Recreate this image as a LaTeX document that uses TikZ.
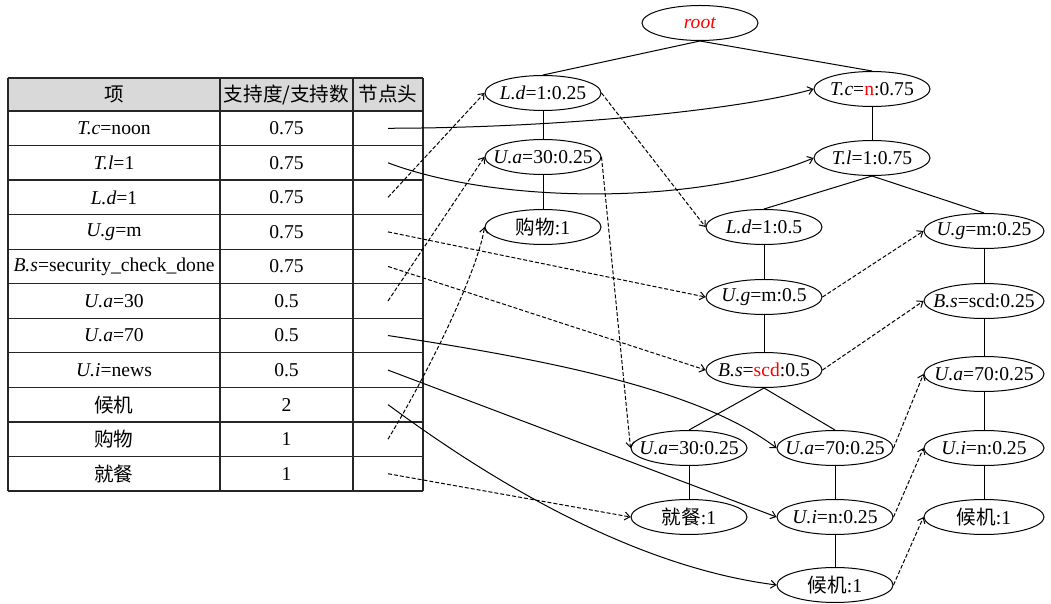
\documentclass[tikz,border=0pt]{standalone}
\usepackage{fontspec}
\setmainfont{Liberation Serif}
\newfontfamily\cjk{Noto Sans CJK SC}
\usetikzlibrary{shapes.geometric,arrows.meta}
\newcommand\zb[1]{\makebox[0pt]{#1}}
\begin{document}
\begin{tikzpicture}[x=0.5pt,y=-0.5pt,
  font=\fontsize{9.8}{12}\selectfont,
  el/.style={draw, ellipse, minimum width=58pt, minimum height=17.5pt, inner sep=0pt, line width=0.5pt},
  elw/.style={el, minimum width=60pt},
  tr/.style={line width=0.5pt},
  lk/.style={line width=0.5pt, dash pattern=on 2pt off 1pt, -{Straight Barb[length=2.5pt,width=4pt]}},
  ls/.style={line width=0.5pt, -{Straight Barb[length=2.5pt,width=4pt]}},
  cell/.style={inner sep=0pt, anchor=center},
  tline/.style={line width=0.65pt, black!85}
]
\useasboundingbox (0,0) rectangle (1051,604);

% ---------- table ----------
\fill[gray!30] (8,78) rectangle (423,111);
\draw[tline] (8,78) -- (423,78);
\draw[tline] (8,111) -- (423,111);
\foreach \i in {1,...,11} {
  \draw[tline] (8,{111+34.545*\i}) -- (423,{111+34.545*\i});
}
\foreach \x in {8,220,353,423} {
  \draw[tline] (\x,78) -- (\x,491);
}
\node[cell] (hA) at (114,94.5) {\cjk 项};
\node[cell] (hB) at (286.5,94.5) {\cjk 支持度/支持数};
\node[cell] (hC) at (388,94.5) {\cjk 节点头};
\foreach \i/\a/\b in {
  1/{\textit{T.c}=noon}/0.75,
  2/{\textit{T.l}=1}/0.75,
  3/{\textit{L.d}=1}/0.75,
  4/{\textit{U.g}=m}/0.75,
  5/{\textit{B.s}=security\_check\_done}/0.75,
  6/{\textit{U.a}=30}/0.5,
  7/{\textit{U.a}=70}/0.5,
  8/{\textit{U.i}=news}/0.5,
  9/{{\cjk 候机}}/2,
  10/{{\cjk 购物}}/1,
  11/{{\cjk 就餐}}/1} {
  \node[cell] (ta\i) at (114,{111+34.545*(\i-0.5)}) {\a};
  \node[cell] (tb\i) at (286.5,{111+34.545*(\i-0.5)}) {\b};
  \coordinate (h\i) at (388,{111+34.545*(\i-0.5)});
}

% ---------- tree nodes ----------
\node[el] (root) at (700,23) {\zb{\color{red}\textit{root}}};
\node[el] (ld1) at (543,93) {\zb{\textit{L.d}=1:0.25}};
\node[el] (ua1) at (543,157) {\zb{\textit{U.a}=30:0.25}};
\node[el] (gw) at (543,227) {\zb{{\cjk 购物}:1}};
\node[el] (tc) at (872,89) {\zb{\textit{T.c}={\color{red}n}:0.75}};
\node[el] (tl) at (872,158) {\zb{\textit{T.l}=1:0.75}};
\node[el] (ld2) at (764,227) {\zb{\textit{L.d}=1:0.5}};
\node[elw] (ug1) at (984,231) {\zb{\textit{U.g}=m:0.25}};
\node[el] (ug2) at (764,297) {\zb{\textit{U.g}=m:0.5}};
\node[elw] (bs1) at (984,301) {\zb{\textit{B.s}=scd:0.25}};
\node[el] (bs2) at (764,370) {\zb{\textit{B.s}={\color{red}scd}:0.5}};
\node[elw] (ua70r) at (984,374) {\zb{\textit{U.a}=70:0.25}};
\node[el] (ua30m) at (689,448) {\zb{\textit{U.a}=30:0.25}};
\node[el] (ua70m) at (835,448) {\zb{\textit{U.a}=70:0.25}};
\node[elw] (uir) at (984,448) {\zb{\textit{U.i}=n:0.25}};
\node[el] (jc) at (689,517) {\zb{{\cjk 就餐}:1}};
\node[el] (uim) at (835,517) {\zb{\textit{U.i}=n:0.25}};
\node[elw] (hjr) at (984,517) {\zb{{\cjk 候机}:1}};
\node[el] (hjb) at (835,585) {\zb{{\cjk 候机}:1}};

% ---------- tree edges ----------
\draw[tr] (root.south) -- (ld1.north);
\draw[tr] (root.south) -- (tc.north);
\draw[tr] (ld1) -- (ua1);
\draw[tr] (ua1) -- (gw);
\draw[tr] (tc) -- (tl);
\draw[tr] (tl.south) -- (ld2.north);
\draw[tr] (tl.south) -- (ug1.north);
\draw[tr] (ld2) -- (ug2);
\draw[tr] (ug2) -- (bs2);
\draw[tr] (bs2.south) -- (ua30m.north);
\draw[tr] (bs2.south) -- (ua70m.north);
\draw[tr] (ua70m) -- (uim);
\draw[tr] (uim) -- (hjb);
\draw[tr] (ua30m) -- (jc);
\draw[tr] (ug1) -- (bs1);
\draw[tr] (bs1) -- (ua70r);
\draw[tr] (ua70r) -- (uir);
\draw[tr] (uir) -- (hjr);

% ---------- node links ----------
\draw[lk] (ld1.east) -- (ld2.west);
\draw[lk] (ua1.east) -- (ua30m.west);
\draw[lk] (ug2.east) -- (ug1.west);
\draw[lk] (bs2.east) -- (bs1.west);
\draw[lk] (ua70m.east) -- (ua70r.west);
\draw[lk] (uim.east) -- (uir.west);
\draw[lk] (hjb.east) -- (hjr.west);

% ---------- header pointers ----------
\draw[ls] (h1) .. controls (560,128) and (740,110) .. (tc.west);
\draw[ls] (h2) .. controls (500,205) and (700,205) .. (tl.west);
\draw[lk] (h3) -- (ld1.west);
\draw[lk] (h4) -- (ug2.west);
\draw[lk] (h5) -- (bs2.west);
\draw[lk] (h6) -- (ua1.west);
\draw[ls] (h7) .. controls (550,360) and (700,390) .. (ua70m.west);
\draw[ls] (h8) -- (uim.west);
\draw[ls] (h9) .. controls (470,465) and (620,565) .. (hjb.west);
\draw[lk] (h10) .. controls (430,370) and (478,270) .. (gw.west);
\draw[lk] (h11) -- (jc.west);
\end{tikzpicture}
\end{document}
